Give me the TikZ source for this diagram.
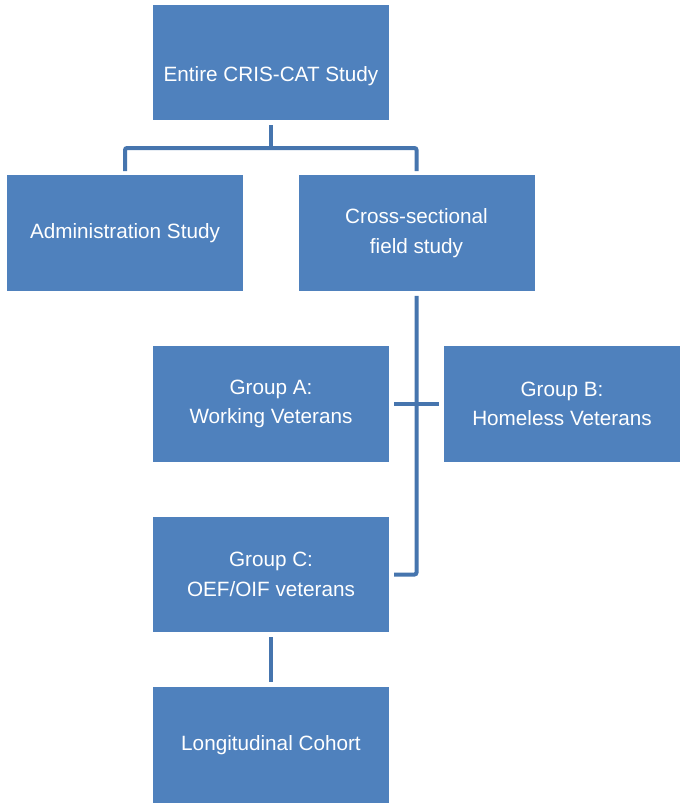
\documentclass[tikz,border=0pt]{standalone}
\usepackage{fontspec}
\setmainfont{Liberation Sans}
\definecolor{boxblue}{HTML}{4F81BD}
\definecolor{lineblue}{HTML}{4675AE}
\begin{document}
\begin{tikzpicture}[x=1pt,y=-1pt,
  boxfont/.style={text=white, font=\fontsize{20.7}{29.5}\selectfont, align=center},
  box/.style={rectangle, fill=boxblue, draw=none, minimum width=236pt, minimum height=115.5pt,
    inner sep=0pt, boxfont},
  conn/.style={draw=lineblue, line width=4pt, rounded corners=2pt}]
\useasboundingbox (0,0) rectangle (685,809);
\fill[white] (0,0) rectangle (685,809);
\node[box, label={[boxfont, yshift=-14pt]center:Entire CRIS-CAT Study}] (top) at (271,62.5) {};
\node[box] (admin) at (125,233) {Administration Study};
\node[box] (cross) at (416.5,233) {Cross-sectional\\field study};
\node[box] (A) at (271,404) {Group A:\\Working Veterans};
\node[box] (B) at (562,404) {Group B:\\Homeless Veterans};
\node[box] (C) at (271,574.5) {Group C:\\OEF/OIF veterans};
\node[box] (L) at (271,745) {Longitudinal Cohort};
\coordinate (bus) at (271,148);
\draw[conn] ([yshift=-5pt]top.south) -- (bus);
\draw[conn] ([yshift=4pt]admin.north) |- (bus) -| ([yshift=4pt]cross.north);
\draw[conn] ([yshift=-5pt]cross.south) |- ([xshift=5pt]C.east);
\draw[conn] ([xshift=5pt]A.east) -- ([xshift=-5pt]B.west);
\draw[conn] ([yshift=-5pt]C.south) -- ([yshift=5pt]L.north);
\end{tikzpicture}
\end{document}
